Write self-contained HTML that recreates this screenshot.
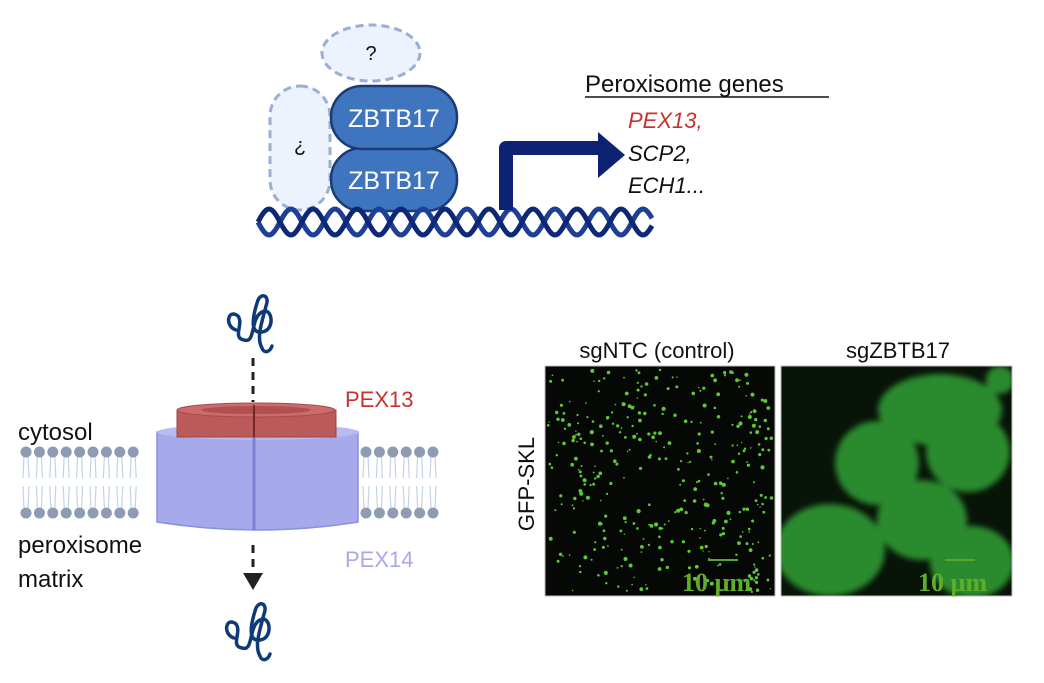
<!DOCTYPE html>
<html><head><meta charset="utf-8"><style>
html,body{margin:0;padding:0;background:#fff}
body{width:1044px;height:683px;position:relative;overflow:hidden;font-family:"Liberation Sans",sans-serif}
svg{position:absolute;left:0;top:0}
</style></head><body>
<svg width="1044" height="683" viewBox="0 0 1044 683" xmlns="http://www.w3.org/2000/svg">
<defs>
<filter id="bl" x="-50%" y="-50%" width="200%" height="200%"><feGaussianBlur stdDeviation="3"/></filter>
<clipPath id="rc"><rect x="781" y="366" width="231" height="230"/></clipPath>
</defs>
<ellipse cx="371" cy="53" rx="49" ry="28" fill="#edf3fc" stroke="#9aaed6" stroke-width="3" stroke-dasharray="8,5"/>
<text x="371" y="60" font-size="20" text-anchor="middle" fill="#111">?</text>
<rect x="270" y="86" width="60" height="124" rx="30" fill="#edf3fc" stroke="#9aaed6" stroke-width="3" stroke-dasharray="8,5"/>
<text x="0" y="0" font-size="20" text-anchor="middle" fill="#111" transform="translate(300,148) rotate(180)" dy="7">?</text>
<rect x="331" y="148" width="126" height="63" rx="31" fill="#3f74bf" stroke="#1c3a78" stroke-width="2.5"/>
<rect x="331" y="86" width="126" height="63" rx="31" fill="#3f74bf" stroke="#1c3a78" stroke-width="2.5"/>
<text x="394" y="127" font-size="25" text-anchor="middle" fill="#fff">ZBTB17</text>
<text x="394" y="189" font-size="25" text-anchor="middle" fill="#fff">ZBTB17</text>
<g fill="none" stroke-width="5">
<path id="s1" stroke="#1d3f95" d=""/>
<path id="s2" stroke="#0d2877" d=""/>
</g>
<path d="M506 210 V148 H602" fill="none" stroke="#0d2272" stroke-width="14" stroke-linejoin="round"/>
<polygon points="598,132 625,155 598,178" fill="#0d2272"/>
<text x="585" y="92" font-size="24" fill="#111">Peroxisome genes</text>
<line x1="585" y1="97" x2="829" y2="97" stroke="#111" stroke-width="1.5"/>
<text x="628" y="128" font-size="22" font-style="italic" fill="#c8322d">PEX13,</text>
<text x="628" y="161" font-size="22" font-style="italic" fill="#111">SCP2,</text>
<text x="628" y="193" font-size="22" font-style="italic" fill="#111">ECH1...</text>

<g id="mem"></g>
<path d="M157 432 Q258 420 358 432 V522 Q258 538 157 522 Z" fill="#a6aaea" stroke="#8a8fe0" stroke-width="1.5"/>
<ellipse cx="258" cy="432" rx="101" ry="8" fill="#b8bbf0"/>
<line x1="254" y1="436" x2="254" y2="530" stroke="#7b80d8" stroke-width="3"/>
<path d="M177 410 V437 H336 V410 Z" fill="#bb5a5a" stroke="#9e4444" stroke-width="1"/>
<ellipse cx="256" cy="410" rx="79" ry="7" fill="#cc6b6b" stroke="#a84b4b"/>
<ellipse cx="256" cy="410" rx="55" ry="4" fill="#b05050"/>
<line x1="254" y1="405" x2="254" y2="437" stroke="#6d2a2a" stroke-width="2"/>
<line x1="253" y1="358" x2="253" y2="402" stroke="#222" stroke-width="3" stroke-dasharray="8,6"/>
<line x1="253" y1="545" x2="253" y2="574" stroke="#222" stroke-width="3" stroke-dasharray="8,6"/>
<polygon points="243,573 263,573 253,590" fill="#222"/>
<g fill="none" stroke="#0e3a78" stroke-width="3.5" stroke-linecap="round">
<path d="M236 330 C224 326 228 308 238 316 C244 324 232 338 244 340 C256 344 250 318 262 312 C272 306 276 330 262 332 C250 334 252 318 258 300 C262 292 270 296 266 306 C262 322 256 338 262 348 C264 354 270 352 272 346"/>
<path d="M234 638 C222 634 226 616 236 624 C242 632 230 646 242 648 C254 652 248 626 260 620 C270 614 274 638 260 640 C248 642 250 626 256 608 C260 600 268 604 264 614 C260 630 254 646 260 656 C262 662 268 660 270 654"/>
</g>
<text x="18" y="440" font-size="24" fill="#111">cytosol</text>
<text x="18" y="553" font-size="24" fill="#111">peroxisome</text>
<text x="18" y="587" font-size="24" fill="#111">matrix</text>
<text x="345" y="407" font-size="22" fill="#c8322d">PEX13</text>
<text x="345" y="567" font-size="22" fill="#a8aae8">PEX14</text>

<text x="657" y="358" font-size="22" text-anchor="middle" fill="#111">sgNTC (control)</text>
<text x="898" y="358" font-size="22" text-anchor="middle" fill="#111">sgZBTB17</text>
<text transform="translate(534,484) rotate(-90)" font-size="22" text-anchor="middle" fill="#111">GFP-SKL</text>
<rect x="545" y="366" width="230" height="230" fill="#050805" stroke="#bbb" stroke-width="1"/>
<g id="dots"></g>
<line x1="708" y1="560" x2="738" y2="560" stroke="#5aa52a" stroke-width="2"/>
<text x="682" y="591" font-size="26" font-weight="bold" font-family="Liberation Serif" fill="#5fae2a">10 µm</text>
<rect x="781" y="366" width="231" height="230" fill="#081408"/>
<g clip-path="url(#rc)">
<g filter="url(#bl)" fill="#2b8a2e">
<ellipse cx="940" cy="410" rx="62" ry="36"/>
<ellipse cx="877" cy="463" rx="42" ry="42"/>
<ellipse cx="968" cy="452" rx="42" ry="40"/>
<ellipse cx="830" cy="550" rx="55" ry="46"/>
<ellipse cx="922" cy="520" rx="45" ry="40"/>
<ellipse cx="972" cy="562" rx="42" ry="36"/>
<ellipse cx="1000" cy="380" rx="14" ry="14"/>
</g>
</g>
<rect x="781" y="366" width="231" height="230" fill="none" stroke="#bbb" stroke-width="1"/>
<line x1="945" y1="560" x2="975" y2="560" stroke="#5aa52a" stroke-width="2"/>
<text x="918" y="591" font-size="26" font-weight="bold" font-family="Liberation Serif" fill="#5fae2a">10 µm</text>
</svg>
<script>
(function(){
var p1="",p2="",x0=258,x1=652,y=222,a=13,P=44;
for(var x=x0;x<=x1;x+=2){var t=(x-x0)/P*2*Math.PI;
p1+=(x==x0?"M":"L")+x+" "+(y+a*Math.sin(t)).toFixed(1);
p2+=(x==x0?"M":"L")+x+" "+(y-a*Math.sin(t)).toFixed(1);}
document.getElementById("s1").setAttribute("d",p1);
document.getElementById("s2").setAttribute("d",p2);
var g=document.getElementById("mem"),h="";
function seg(xa,xb){for(var x=xa;x<=xb;x+=13.4){
h+='<path d="M'+(x-2)+' 456 L'+(x-3)+' 478 M'+(x+2)+' 456 L'+(x+3)+' 478 M'+(x-3)+' 486 L'+(x-2)+' 508 M'+(x+3)+' 486 L'+(x+2)+' 508" stroke="#c5d2e6" stroke-width="1.2" fill="none"/>';
h+='<circle cx="'+x+'" cy="452" r="5.5" fill="#8e9cb3"/><circle cx="'+x+'" cy="513" r="5.5" fill="#8e9cb3"/>';}}
seg(26,146);seg(366,444);
g.innerHTML=h;
var s=12345;function r(){s=(s*16807)%2147483647;return s/2147483647;}
var d="";for(var i=0;i<380;i++){var x=548+r()*224,yy=370+r()*222;
var cx=(x-640)/100,cy=(yy-490)/100;if(r()<0.5&&cx*cx+cy*cy<0.12)continue;
d+='<circle cx="'+x.toFixed(1)+'" cy="'+yy.toFixed(1)+'" r="'+(0.7+r()*1.4).toFixed(1)+'" fill="#5fc83a"/>';}
document.getElementById("dots").innerHTML=d;
})();
</script>
</body></html>
